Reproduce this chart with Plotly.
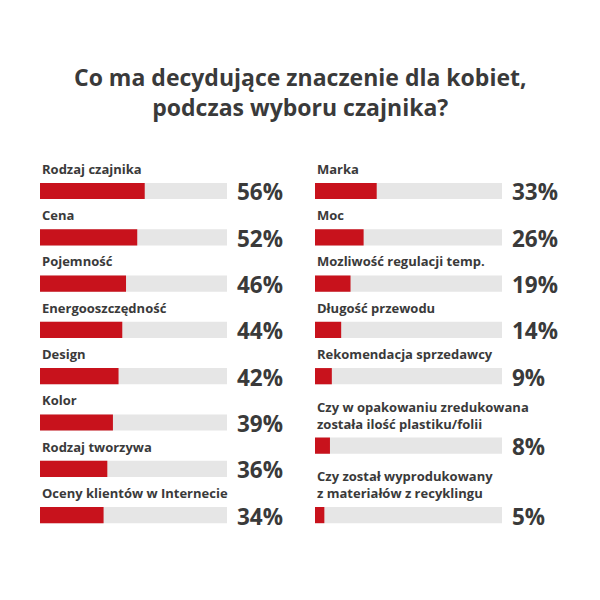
import plotly.graph_objects as go

title_lines = ["Co ma decydujące znaczenie dla kobiet,", "podczas wyboru czajnika?"]

left_labels = ["Rodzaj czajnika", "Cena", "Pojemność", "Energooszczędność", "Design",
               "Kolor", "Rodzaj tworzywa", "Oceny klientów w Internecie"]
left_values = [56, 52, 46, 44, 42, 39, 36, 34]

right_labels = ["Marka", "Moc", "Mozliwość regulacji temp.", "Długość przewodu",
                "Rekomendacja sprzedawcy",
                "Czy w opakowaniu zredukowana<br>została ilość plastiku/folii",
                "Czy został wyprodukowany<br>z materiałów z recyklingu"]
right_values = [33, 26, 19, 14, 9, 8, 5]

RED = "#c8121c"
GREY = "#e6e6e6"
TXT = "#3a3a3a"
FONT = "Open Sans"

TRACK_PX = 187
XMAX = 140


def positions(labels):
    pos, p = [], 0.0
    for i, lab in enumerate(labels):
        if i > 0:
            p += 1.0 + 0.5 * lab.count("<br>")
        pos.append(p)
    return pos


fig = go.Figure()
cols = [(left_labels, left_values, "x", "y"), (right_labels, right_values, "x2", "y")]
for labels, values, xa, ya in cols:
    pos = positions(labels)
    fig.add_trace(go.Bar(x=[100] * len(values), y=pos, orientation="h", width=0.35,
                         marker=dict(color=GREY, line=dict(width=0)), xaxis=xa, yaxis=ya,
                         hoverinfo="skip", showlegend=False))
    fig.add_trace(go.Bar(x=values, y=pos, orientation="h", width=0.35,
                         marker=dict(color=RED, line=dict(width=0)), xaxis=xa, yaxis=ya,
                         showlegend=False))
    for lab, v, p in zip(labels, values, pos):
        fig.add_annotation(x=0, y=p - 0.24, xref=xa, yref=ya, text=lab, showarrow=False,
                           xanchor="left", yanchor="bottom", align="left",
                           font=dict(family=FONT, size=13, color=TXT, weight="bold"))
        fig.add_annotation(x=104.5, y=p + 0.02, xref=xa, yref=ya, text=f"{v}%", showarrow=False,
                           xanchor="left", yanchor="middle",
                           font=dict(family=FONT, size=22.5, color=TXT, weight="bold"))

fig.add_annotation(x=0.5, y=1 - 92 / 600, xref="paper", yref="paper",
                   text="<br>".join(title_lines), showarrow=False,
                   xanchor="center", yanchor="middle", align="center",
                   font=dict(family=FONT, size=23, color=TXT, weight="bold"))

w = TRACK_PX * XMAX / 100
fig.update_layout(
    width=600, height=600, margin=dict(l=0, r=0, t=0, b=0),
    paper_bgcolor="white", plot_bgcolor="white", barmode="overlay",
    xaxis=dict(domain=[40 / 600, (40 + w) / 600], range=[0, XMAX], visible=False, fixedrange=True),
    xaxis2=dict(domain=[315 / 600, (315 + w) / 600], range=[0, XMAX], visible=False, fixedrange=True),
    yaxis=dict(domain=[0, 1], range=[8.834, -4.125], visible=False, fixedrange=True),
)

fig.write_html("out.html")
